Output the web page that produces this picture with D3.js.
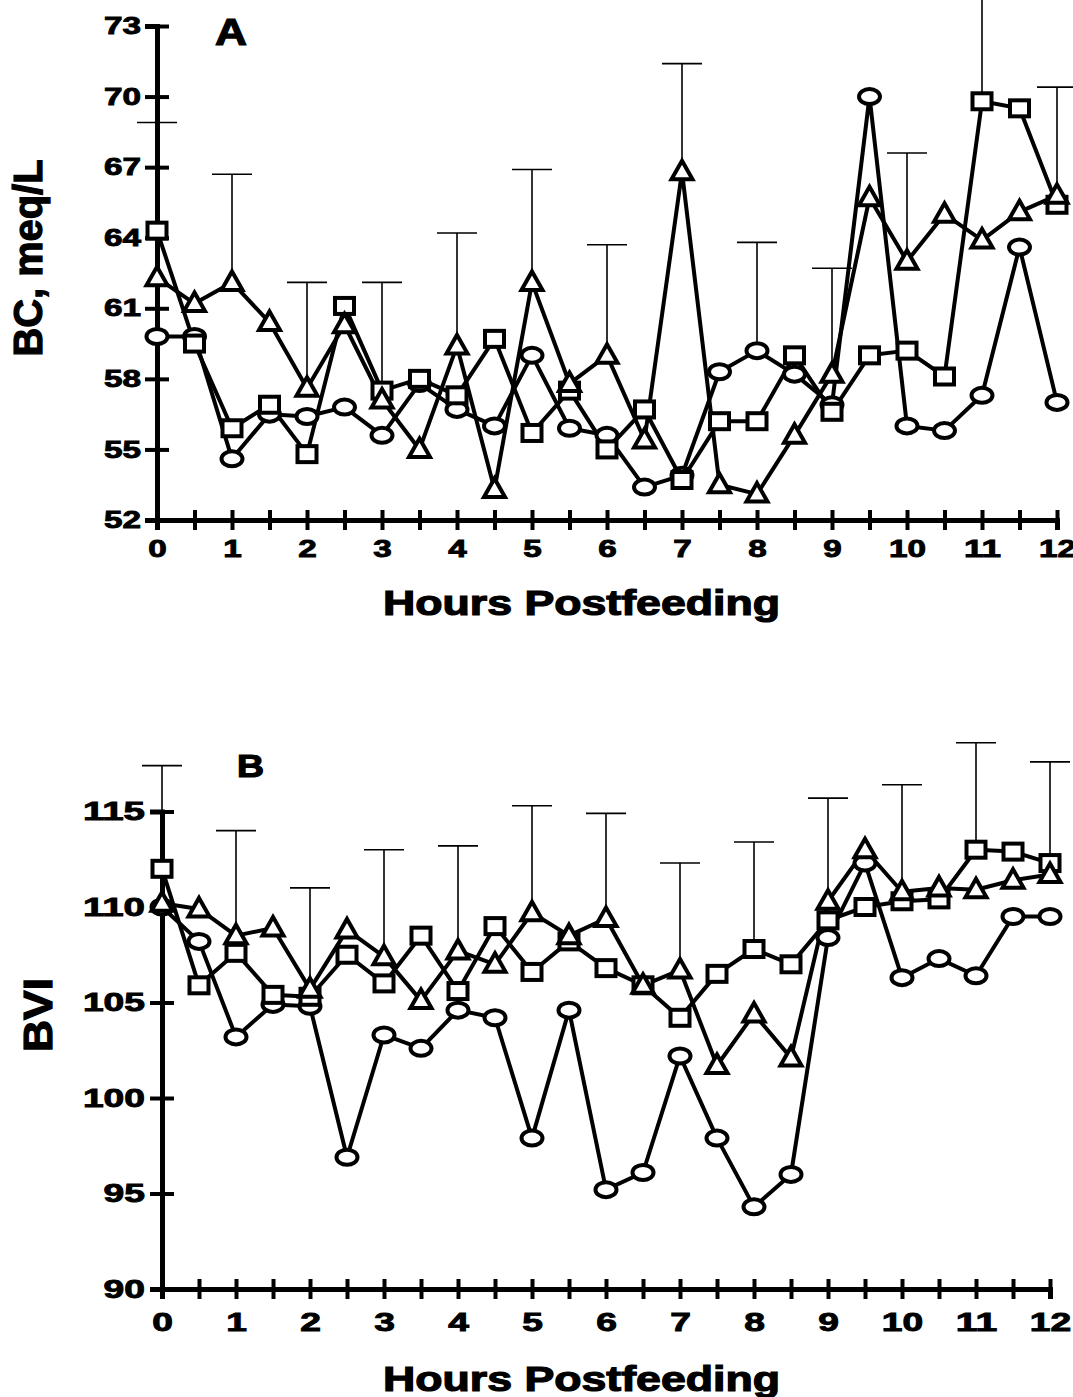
<!DOCTYPE html>
<html>
<head>
<meta charset="utf-8">
<title>BC and BVI postfeeding</title>
<style>
  body { margin: 0; background: #fff; }
  text { font-family: "Liberation Sans", Arial, sans-serif; font-weight: bold; fill: #000; }
  .line { fill: none; stroke: #000; stroke-width: 4; stroke-linejoin: round; }
  .mark { fill: #fff; stroke: #000; stroke-width: 4; }
  .err { stroke: #000; stroke-width: 1.6; fill: none; }
  .axis .domain { stroke: #000; stroke-width: 5; }
  .axis .tick line { stroke: #000; stroke-width: 4; }
</style>
</head>
<body>
<script src="https://cdn.jsdelivr.net/npm/d3@7"></script>
<script>

var hours = [0, 0.5, 1, 1.5, 2, 2.5, 3, 3.5, 4, 4.5, 5, 5.5, 6, 6.5, 7, 7.5, 8, 8.5, 9, 9.5, 10, 10.5, 11, 11.5, 12];
var errHours = [0, 1, 2, 3, 4, 5, 6, 7, 8, 9, 10, 11, 12];
var hourLabels = [0, 1, 2, 3, 4, 5, 6, 7, 8, 9, 10, 11, 12];

// panel A: BC, meq/L
var bcCircle   = [59.8, 59.8, 54.6, 56.5, 56.4, 56.8, 55.6, 57.8, 56.7, 56.0, 59.0, 55.9, 55.6, 53.4, 53.9, 58.3, 59.2, 58.2, 56.9, 70.0, 56.0, 55.8, 57.3, 63.6, 57.0];
var bcSquare   = [64.3, 59.5, 55.9, 56.9, 54.8, 61.1, 57.5, 58.0, 57.3, 59.7, 55.7, 57.5, 55.0, 56.7, 53.7, 56.2, 56.2, 59.0, 56.6, 59.0, 59.2, 58.1, 69.8, 69.5, 65.4];
var bcTriangle = [62.3, 61.2, 62.1, 60.4, 57.6, 60.3, 57.1, 55.0, 59.4, 53.3, 62.1, 57.8, 59.0, 55.4, 66.8, 53.5, 53.1, 55.6, 58.2, 65.7, 63.0, 65.0, 63.9, 65.1, 65.8];
var bcErrTop   = [68.9, 66.7, 62.1, 62.1, 64.2, 66.9, 63.7, 71.4, 63.8, 62.7, 67.6, 75.5, 70.4];
var bcTicks    = [52, 55, 58, 61, 64, 67, 70, 73];

// panel B: BVI
var bviCircle   = [110.0, 108.2, 103.2, 104.9, 104.8, 96.9, 103.3, 102.6, 104.6, 104.2, 97.9, 104.6, 95.2, 96.1, 102.2, 97.9, 94.3, 96.0, 108.4, 112.3, 106.3, 107.3, 106.4, 109.5, 109.5];
var bviSquare   = [112.0, 105.9, 107.6, 105.4, 105.3, 107.5, 106.0, 108.5, 105.6, 109.0, 106.6, 108.2, 106.8, 105.9, 104.2, 106.5, 107.8, 107.0, 109.3, 110.0, 110.3, 110.4, 113.0, 112.9, 112.3];
var bviTriangle = [110.2, 109.9, 108.5, 108.9, 105.7, 108.8, 107.4, 105.1, 107.7, 107.0, 109.7, 108.5, 109.4, 105.9, 106.7, 101.7, 104.4, 102.1, 110.3, 113.0, 110.8, 111.0, 110.9, 111.4, 111.7];
var bviErrTop   = [117.4, 114.0, 111.0, 113.0, 113.2, 115.3, 114.9, 112.3, 113.4, 115.7, 116.4, 118.6, 117.6];
var bviTicks    = [90, 95, 100, 105, 110, 115];

var W = 1073, H = 1397;
var svg = d3.select('body').append('svg')
    .attr('width', W)
    .attr('height', H);
svg.append('rect').attr('width', W).attr('height', H).attr('fill', '#fff');

function drawPanel(p) {
	var x = d3.scaleLinear().domain([0, 12]).range([p.x0, p.x1]);
	var y = d3.scaleLinear().domain(p.yDomain).range([p.yBottom, p.yTop]);
	var g = svg.append('g');

	// y axis with cross ticks
	var yAxis = d3.axisLeft(y).tickValues(p.yTicks).tickSizeOuter(0).tickSize(12);
	var ya = g.append('g').attr('class', 'axis')
		.attr('transform', `translate(${p.x0},0)`)
		.call(yAxis);
	ya.selectAll('.tick line').attr('x1', -12).attr('x2', 12);
	ya.selectAll('.tick text')
		.attr('x', -p.yLabelGap)
		.attr('font-size', p.tickFont)
		.attr('stroke', '#000').attr('stroke-width', 0.9)
		.attr('textLength', d => String(d).length * p.digitW)
		.attr('lengthAdjust', 'spacingAndGlyphs');

	// x axis: ticks every half hour, labels on the hour
	var xAxis = d3.axisBottom(x).tickValues(hours).tickSizeOuter(0).tickSize(10)
		.tickFormat(d => hourLabels.includes(d) ? d : '');
	var xa = g.append('g').attr('class', 'axis')
		.attr('transform', `translate(0,${p.yBottom})`)
		.call(xAxis);
	xa.selectAll('.tick line').attr('y1', -10).attr('y2', 10);
	xa.selectAll('.tick text')
		.attr('y', p.xLabelGap)
		.attr('font-size', p.tickFont)
		.attr('stroke', '#000').attr('stroke-width', 0.9)
		.filter(d => hourLabels.includes(d))
		.attr('textLength', d => String(d).length * p.digitW)
		.attr('lengthAdjust', 'spacingAndGlyphs');

	// error bars from the highest mean up to the cap
	var series = [p.circle, p.square, p.triangle];
	var errs = errHours.map((h, i) => {
		var k = hours.indexOf(h);
		return {h: h, lo: d3.max(series, s => s[k]), hi: p.errTop[i]};
	});
	var eg = g.append('g');
	eg.selectAll('line.v').data(errs).join('line')
		.attr('class', 'err')
		.attr('x1', d => x(d.h)).attr('x2', d => x(d.h))
		.attr('y1', d => y(d.lo) - 9).attr('y2', d => y(d.hi));
	eg.selectAll('line.c').data(errs).join('line')
		.attr('class', 'err')
		.attr('x1', d => x(d.h) - 20).attr('x2', d => x(d.h) + 20)
		.attr('y1', d => y(d.hi)).attr('y2', d => y(d.hi));

	var line = d3.line().x((d, i) => x(hours[i])).y(d => y(d));
	series.forEach(s => {
		g.append('path').datum(s).attr('class', 'line').attr('d', line);
	});

	// markers
	g.selectAll('ellipse.c').data(p.circle).join('ellipse')
		.attr('class', 'mark')
		.attr('cx', (d, i) => x(hours[i])).attr('cy', d => y(d))
		.attr('rx', 10.5).attr('ry', 7.5);
	g.selectAll('rect.s').data(p.square).join('rect')
		.attr('class', 'mark')
		.attr('x', (d, i) => x(hours[i]) - 9.5).attr('y', d => y(d) - 8)
		.attr('width', 19).attr('height', 16);
	g.selectAll('path.t').data(p.triangle).join('path')
		.attr('class', 'mark')
		.attr('d', (d, i) => {
			var cx = x(hours[i]), cy = y(d);
			return `M${cx},${cy - 11}L${cx + 10.5},${cy + 7.5}L${cx - 10.5},${cy + 7.5}Z`;
		});

	// titles
	g.append('text')
		.text(p.letter)
		.attr('x', p.letterX).attr('y', p.letterY)
		.attr('font-size', p.letterFont)
		.attr('stroke', '#000').attr('stroke-width', 1.2)
		.attr('textLength', p.letterW).attr('lengthAdjust', 'spacingAndGlyphs');

	g.append('text')
		.text('Hours Postfeeding')
		.attr('x', 383).attr('y', p.xTitleY)
		.attr('font-size', 35)
		.attr('stroke', '#000').attr('stroke-width', 1.2)
		.attr('textLength', 397).attr('lengthAdjust', 'spacingAndGlyphs');

	g.append('text')
		.text(p.yTitle)
		.attr('text-anchor', 'middle')
		.attr('transform', `translate(${p.yTitleX},${p.yTitleY}) rotate(-90)`)
		.attr('font-size', 40)
		.attr('stroke', '#000').attr('stroke-width', 1.2)
		.attr('textLength', p.yTitleW).attr('lengthAdjust', 'spacingAndGlyphs');
}

drawPanel({
	x0: 157, x1: 1057, yBottom: 520, yTop: 26, yDomain: [52, 73],
	yTicks: bcTicks, tickFont: 24, digitW: 18.5, yLabelGap: 16, xLabelGap: 20,
	circle: bcCircle, square: bcSquare, triangle: bcTriangle, errTop: bcErrTop,
	letter: 'A', letterX: 215, letterY: 45, letterFont: 37, letterW: 32,
	xTitleY: 615,
	yTitle: 'BC, meq/L', yTitleX: 42, yTitleY: 258, yTitleW: 197
});

drawPanel({
	x0: 162, x1: 1050, yBottom: 1289, yTop: 811.5, yDomain: [90, 115],
	yTicks: bviTicks, tickFont: 25, digitW: 20.7, yLabelGap: 17, xLabelGap: 24,
	circle: bviCircle, square: bviSquare, triangle: bviTriangle, errTop: bviErrTop,
	letter: 'B', letterX: 237, letterY: 777, letterFont: 31, letterW: 27,
	xTitleY: 1391,
	yTitle: 'BVI', yTitleX: 52, yTitleY: 1015, yTitleW: 74
});

</script>
</body>
</html>
